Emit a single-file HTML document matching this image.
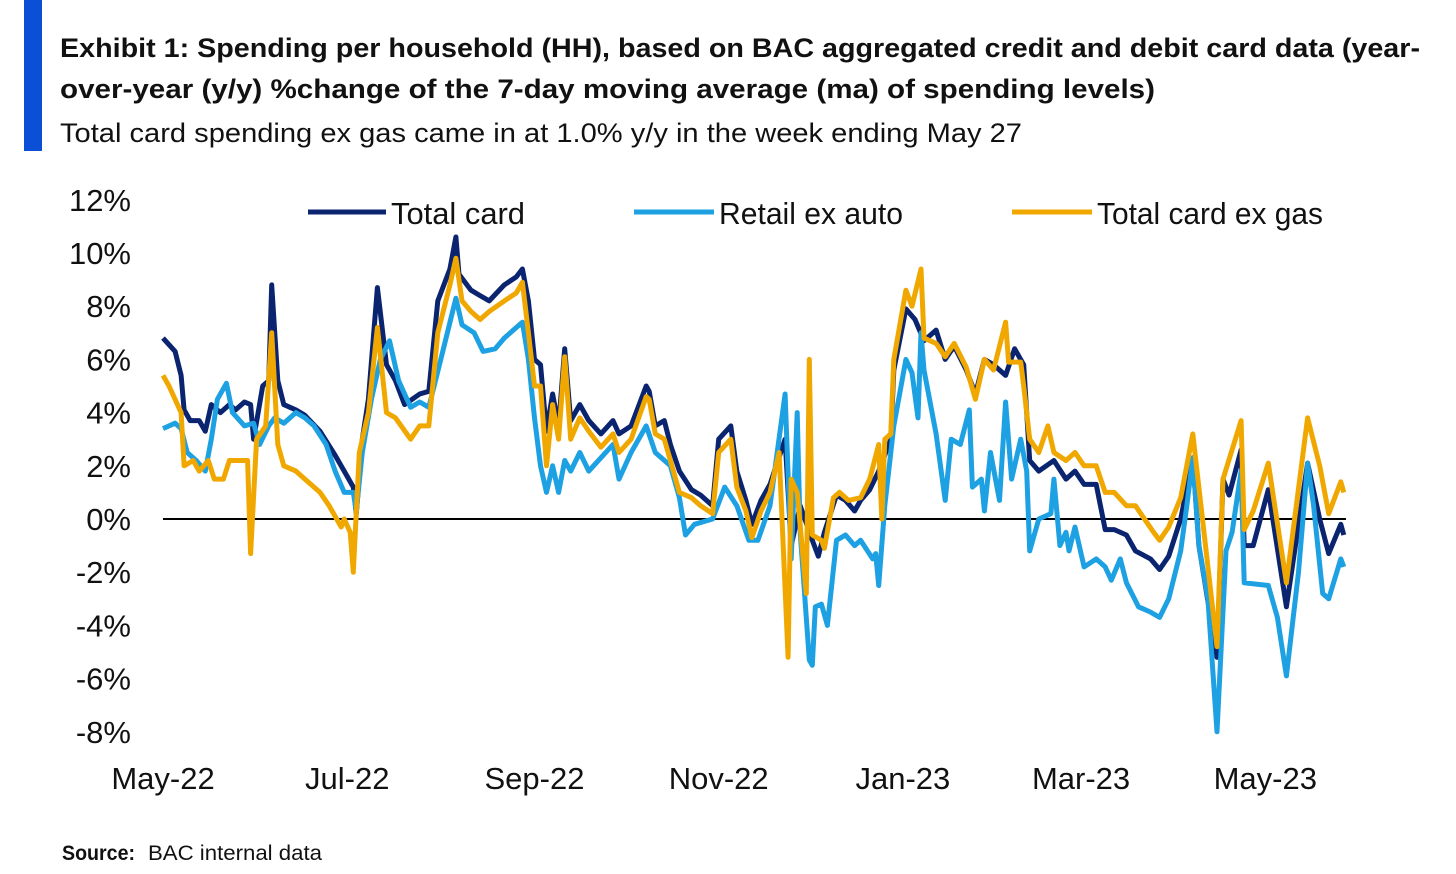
<!DOCTYPE html>
<html><head><meta charset="utf-8"><style>
html,body{margin:0;padding:0;background:#fff;}
svg{display:block;font-family:"Liberation Sans",sans-serif;}
</style></head><body>
<svg id="chart" width="1456" height="874" viewBox="0 0 1456 874">
<rect x="24" y="0" width="18" height="151" fill="#0a4fd6"/>
<text x="60" y="57" font-size="27" font-weight="bold" fill="#111" textLength="1360" lengthAdjust="spacingAndGlyphs">Exhibit 1: Spending per household (HH), based on BAC aggregated credit and debit card data (year-</text>
<text x="60" y="98" font-size="27" font-weight="bold" fill="#111" textLength="1095" lengthAdjust="spacingAndGlyphs">over-year (y/y)  %change of the 7-day moving average (ma) of spending levels)</text>
<text x="60" y="142" font-size="27" fill="#111" textLength="962" lengthAdjust="spacingAndGlyphs">Total card spending ex gas came in at 1.0% y/y in the week ending May 27</text>
<g id="yaxis"></g>
<g id="xaxis"></g>
<line x1="163" y1="519" x2="1346" y2="519" stroke="#000" stroke-width="2"/>
<g id="series"></g>
<g>
<g><line x1="308" y1="212" x2="386" y2="212" stroke="#0b2470" stroke-width="5"/><text x="391" y="224" font-size="31" fill="#111" textLength="134" lengthAdjust="spacingAndGlyphs">Total card</text></g>
<g><line x1="634" y1="212" x2="714" y2="212" stroke="#1ea1e2" stroke-width="5"/><text x="719" y="224" font-size="31" fill="#111" textLength="184" lengthAdjust="spacingAndGlyphs">Retail ex auto</text></g>
<g><line x1="1012" y1="212" x2="1092" y2="212" stroke="#f0a800" stroke-width="5"/><text x="1097" y="224" font-size="31" fill="#111" textLength="226" lengthAdjust="spacingAndGlyphs">Total card ex gas</text></g>
</g>
<text x="62" y="860" font-size="21" font-weight="bold" fill="#111" textLength="73" lengthAdjust="spacingAndGlyphs">Source:</text>
<text x="148" y="860" font-size="21" fill="#111" textLength="174" lengthAdjust="spacingAndGlyphs">BAC internal data</text>
</svg>
<script>
const yTicks=[12,10,8,6,4,2,0,-2,-4,-6,-8];
const xTickLabels=["May-22","Jul-22","Sep-22","Nov-22","Jan-23","Mar-23","May-23"];
const xTickDays=[0,61,123,184,245,304,365];
const totalCardDays=[0,4,6,7,9,12,14,16,19,22,24,27,29,30,33,35,36,38,40,44,47,52,57,60,63,64,66,68,71,74,77,80,85,88,91,95,97,98,102,105,108,113,117,119,121,123,125,127,129,131,133,135,138,141,145,149,151,155,160,161,163,166,168,171,175,178,182,184,188,190,193,195,198,201,206,208,211,215,217,219,223,226,229,231,234,237,241,242,246,249,252,256,259,262,266,269,272,275,279,282,285,287,290,295,299,302,305,309,312,315,319,322,327,330,333,337,341,343,349,351,353,357,358,361,366,372,379,383,386,390,391];
const totalCard=[6.8,6.3,5.4,4.1,3.7,3.7,3.3,4.3,4.0,4.3,4.1,4.4,4.3,3.0,5.0,5.2,8.8,5.2,4.3,4.1,3.9,3.3,2.4,1.8,1.2,0.2,3.0,4.5,8.7,5.8,5.2,4.3,4.7,4.8,8.2,9.4,10.6,9.2,8.6,8.4,8.2,8.8,9.1,9.4,8.2,6.0,5.8,3.3,4.7,3.5,6.4,3.7,4.3,3.7,3.2,3.7,3.2,3.5,5.0,4.8,3.5,3.7,2.8,1.8,1.1,0.9,0.5,3.0,3.5,1.8,0.7,-0.2,0.7,1.3,3.0,-1.0,0.5,-0.8,-1.4,-0.5,0.9,0.7,0.3,0.7,1.1,1.8,3.0,5.6,7.9,7.5,6.7,7.1,6.0,6.5,5.6,4.7,6.0,5.8,5.4,6.4,5.8,2.2,1.8,2.2,1.5,1.8,1.3,1.3,-0.4,-0.4,-0.6,-1.2,-1.5,-1.9,-1.4,0,2.3,-1.0,-5.2,1.5,0.9,2.6,-1.0,-1.0,1.1,-3.3,2.1,0,-1.3,-0.2,-0.6];
const exGasDays=[0,2,6,7,10,12,15,17,20,22,25,28,29,31,34,36,38,40,44,47,52,55,59,60,62,63,65,68,71,74,77,82,85,88,91,95,97,99,102,105,108,113,117,119,121,123,125,127,129,131,133,135,138,141,145,149,151,155,160,161,163,166,168,171,175,178,182,184,188,190,193,195,198,201,204,207,208,210,213,214,215,218,219,222,224,227,231,234,237,238,239,241,242,246,248,251,252,256,259,262,266,269,272,275,279,280,284,285,287,290,293,295,299,302,305,309,312,315,319,322,325,328,330,333,337,341,349,351,357,358,361,366,372,379,383,386,390,391];
const totalCardExGas=[5.4,5.0,4.0,2.0,2.2,1.8,2.2,1.5,1.5,2.2,2.2,2.2,-1.3,3.0,3.5,7.0,2.8,2.0,1.8,1.5,1.0,0.5,-0.3,0.0,-0.5,-2.0,2.5,4.0,7.2,4.0,3.8,3.0,3.5,3.5,7.0,8.8,9.8,8.2,7.8,7.5,7.8,8.2,8.5,8.9,7.0,5.0,5.0,2.0,4.3,3.0,6.1,3.0,3.8,3.3,2.7,3.2,2.5,3.0,4.6,4.5,3.2,3.0,2.2,1.0,0.8,0.5,0.2,2.5,3.0,1.2,0.3,-0.7,0.3,1.0,2.5,-5.2,1.5,1.0,-2.8,6.0,-0.6,-0.8,-1.1,0.8,1.0,0.7,0.8,1.5,2.8,0.0,3.0,3.2,6.0,8.6,8.0,9.4,6.8,6.6,6.1,6.6,5.7,4.5,6.0,5.6,7.4,5.9,5.9,5.0,3.0,2.5,3.5,2.5,2.2,2.5,2.0,2.0,1.0,1.0,0.5,0.5,0.0,-0.5,-0.8,-0.3,0.8,3.2,-4.8,1.5,3.7,-0.4,0.3,2.1,-2.4,3.8,2.0,0.2,1.4,1.0];
const retailDays=[0,4,6,8,11,14,16,18,21,23,27,30,32,35,37,40,44,47,50,54,57,60,63,64,66,69,72,75,78,82,85,88,92,97,99,103,106,110,113,117,119,121,123,125,127,129,131,133,135,138,141,145,149,151,155,160,163,168,171,173,176,182,186,190,194,197,201,206,208,210,211,214,215,216,218,220,223,226,229,231,235,236,237,239,242,246,248,250,251,252,256,259,261,264,267,268,271,272,274,277,279,281,284,286,287,290,294,295,297,299,300,302,305,309,312,314,317,319,323,327,330,333,337,339,341,343,346,349,352,354,357,358,366,369,372,376,379,381,384,386,390,391];
const retailExAuto=[3.4,3.6,3.4,2.5,2.2,1.8,3.0,4.5,5.1,4.0,3.5,3.6,2.8,3.5,3.8,3.6,4.0,3.8,3.5,2.8,1.8,1.0,1.0,0.3,2.5,4.5,6.0,6.7,5.2,4.2,4.4,4.2,6.0,8.3,7.3,7.0,6.3,6.4,6.8,7.2,7.4,6.0,3.8,2.0,1.0,2.0,1.0,2.2,1.8,2.5,1.8,2.3,2.8,1.5,2.5,3.5,2.5,2.0,0.8,-0.6,-0.2,0.0,1.2,0.5,-0.8,-0.8,0.5,4.7,-1.5,4.0,-0.5,-5.3,-5.5,-3.3,-3.2,-4.0,-0.8,-0.6,-1.0,-0.8,-1.5,-1.3,-2.5,0.5,3.5,6.0,5.5,3.8,7.0,5.6,3.2,0.7,3.0,2.8,4.1,1.2,1.5,0.3,2.5,0.7,4.4,1.5,3.0,1.8,-1.2,0.0,0.2,1.5,-1.0,-0.5,-1.2,-0.3,-1.8,-1.5,-1.8,-2.3,-1.5,-2.4,-3.3,-3.5,-3.7,-3.0,-1.2,0.5,2.3,-1.0,-3.0,-8.0,-1.2,-0.5,1.8,-2.4,-2.5,-3.7,-5.9,-2.0,2.1,0.5,-2.8,-3.0,-1.5,-1.8];

const X0=163, PXD=3.02, Y0=519, PXU=26.6;
function xScale(d){return X0+d*PXD;}
function yScale(v){return Y0-v*PXU;}
const NS="http://www.w3.org/2000/svg";
const yg=document.getElementById('yaxis');
yTicks.forEach(function(t){
  const el=document.createElementNS(NS,'text');
  el.setAttribute('x',131);el.setAttribute('y',yScale(t)+11);
  el.setAttribute('text-anchor','end');el.setAttribute('font-size','31');el.setAttribute('fill','#111');
  
  
  el.textContent=t+'%';yg.appendChild(el);
});
const xg=document.getElementById('xaxis');
xTickLabels.forEach(function(l,i){
  const el=document.createElementNS(NS,'text');
  el.setAttribute('x',xScale(xTickDays[i]));el.setAttribute('y',789);
  el.setAttribute('text-anchor','middle');el.setAttribute('font-size','31');el.setAttribute('fill','#111');
  
  
  el.textContent=l;xg.appendChild(el);
});
const sg=document.getElementById('series');
function drawLine(days,vals,color,name){
  const p=document.createElementNS(NS,'polyline');
  p.setAttribute('points',days.map(function(d,i){return xScale(d).toFixed(1)+','+yScale(vals[i]).toFixed(1);}).join(' '));
  p.setAttribute('fill','none');p.setAttribute('stroke',color);p.setAttribute('stroke-width','5');
  p.setAttribute('stroke-linejoin','round');
  
  
  sg.appendChild(p);
}
drawLine(totalCardDays,totalCard,'#0b2470','line-total-card');
drawLine(retailDays,retailExAuto,'#1ea1e2','line-retail-ex-auto');
drawLine(exGasDays,totalCardExGas,'#f0a800','line-total-card-ex-gas');
</script>
</body></html>
